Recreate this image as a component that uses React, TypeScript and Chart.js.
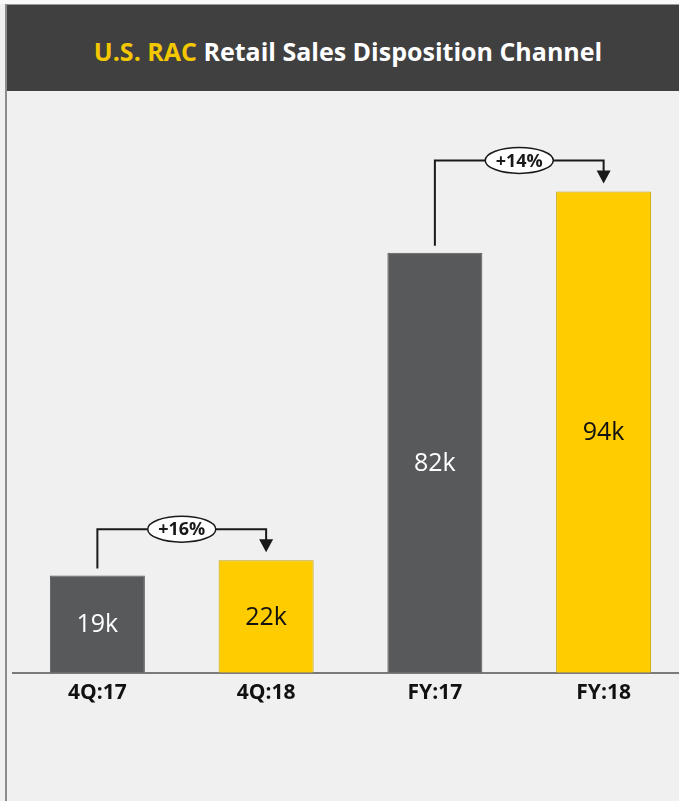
import React, { useEffect, useRef } from 'react';
import { Chart, registerables } from 'chart.js';

Chart.register(...registerables);

const categories = ['4Q:17', '4Q:18', 'FY:17', 'FY:18'];
const salesK = [19, 22, 82, 94];
const valueLabels = ['19k', '22k', '82k', '94k'];
const changePairs = [
  [0, 1],
  [2, 3],
];
const changeLabels = ['+16%', '+14%'];
const titleHighlight = 'U.S. RAC';
const titleRest = ' Retail Sales Disposition Channel';

const GRAY = '#58595b';
const YELLOW = '#ffcc00';
const barColors = [GRAY, YELLOW, GRAY, YELLOW];
const barBorders = [GRAY, '#c2a200', GRAY, '#c2a200'];
const labelColors = ['#ffffff', '#111111', '#ffffff', '#111111'];

const overlayPlugin = {
  id: 'overlay',
  afterDatasetsDraw(chart: any) {
    const ctx = chart.ctx as CanvasRenderingContext2D;
    const meta = chart.getDatasetMeta(0);
    ctx.save();
    ctx.textAlign = 'center';
    ctx.textBaseline = 'middle';
    meta.data.forEach((bar: any, i: number) => {
      const p = bar.getProps(['x', 'y', 'base'], true);
      ctx.fillStyle = labelColors[i];
      ctx.font = '25px "Open Sans"';
      ctx.fillText(valueLabels[i], p.x, (p.y + p.base) / 2 + 1);
    });
    changePairs.forEach(([a, b], k) => {
      const A = meta.data[a].getProps(['x', 'y'], true);
      const B = meta.data[b].getProps(['x', 'y'], true);
      const x1 = A.x;
      const y1 = A.y - 7;
      const x2 = B.x;
      const tip = B.y - 8;
      const hy = B.y - 31;
      ctx.strokeStyle = '#1a1a1a';
      ctx.lineWidth = 2;
      ctx.beginPath();
      ctx.moveTo(x1, y1);
      ctx.lineTo(x1, hy);
      ctx.lineTo(x2, hy);
      ctx.lineTo(x2, tip - 10);
      ctx.stroke();
      ctx.fillStyle = '#1a1a1a';
      ctx.beginPath();
      ctx.moveTo(x2 - 7, tip - 13);
      ctx.lineTo(x2 + 7, tip - 13);
      ctx.lineTo(x2, tip);
      ctx.closePath();
      ctx.fill();
      const cx = (x1 + x2) / 2;
      ctx.beginPath();
      ctx.ellipse(cx, hy, 34, 13, 0, 0, Math.PI * 2);
      ctx.fillStyle = '#ffffff';
      ctx.fill();
      ctx.lineWidth = 1.5;
      ctx.stroke();
      ctx.fillStyle = '#1a1a1a';
      ctx.font = 'bold 18px "Open Sans"';
      ctx.fillText(changeLabels[k], cx, hy + 1);
    });
    ctx.restore();
  },
};

export default function App() {
  const canvasRef = useRef<HTMLCanvasElement | null>(null);

  useEffect(() => {
    if (!canvasRef.current) return;
    const chart = new Chart(canvasRef.current, {
      type: 'bar',
      data: {
        labels: categories,
        datasets: [
          {
            data: salesK,
            backgroundColor: barColors,
            borderColor: barBorders,
            borderWidth: 1,
            barPercentage: 0.563,
            categoryPercentage: 1,
          },
        ],
      },
      options: {
        responsive: false,
        animation: false,
        devicePixelRatio: 1,
        layout: { padding: { left: 13, right: 2, top: 0, bottom: 87 } },
        plugins: {
          legend: { display: false },
          tooltip: { enabled: false },
          title: { display: false },
        },
        scales: {
          x: {
            grid: { display: false, drawTicks: false },
            border: { display: true, color: '#7a7a7a', width: 2 },
            ticks: {
              color: '#111111',
              padding: 8,
              font: { family: '"Open Sans"', size: 21, weight: 'bold' },
            },
          },
          y: {
            display: false,
            min: 0,
            max: 113.6,
          },
        },
      },
      plugins: [overlayPlugin],
    });
    return () => chart.destroy();
  }, []);

  return (
    <div
      style={{
        position: 'fixed',
        left: 0,
        top: 0,
        width: 679,
        height: 801,
        overflow: 'hidden',
        background: '#f0f0f0',
      }}
    >
      <div style={{ position: 'absolute', left: 0, top: 0, width: 679, height: 4, background: '#fafafa' }} />
      <div
        style={{
          position: 'absolute',
          left: 5,
          top: 4,
          width: 674,
          height: 87,
          background: '#404040',
          borderTop: '1px solid #9a9a9a',
          boxSizing: 'border-box',
          display: 'flex',
          alignItems: 'center',
          justifyContent: 'center',
          fontFamily: '"Open Sans", sans-serif',
          fontWeight: 700,
          fontSize: 25,
          color: '#ffffff',
          paddingLeft: 12,
          paddingTop: 6,
        }}
      >
        <span style={{ color: '#f4c800' }}>{titleHighlight}</span>
        <span style={{ whiteSpace: 'pre' }}>{titleRest}</span>
      </div>
      <div style={{ position: 'absolute', left: 5, top: 4, width: 1.5, height: 797, background: '#8c8c8c' }} />
      <canvas
        ref={canvasRef}
        width={690}
        height={710}
        style={{ position: 'absolute', left: 0, top: 91, width: 690, height: 710 }}
      />
    </div>
  );
}
